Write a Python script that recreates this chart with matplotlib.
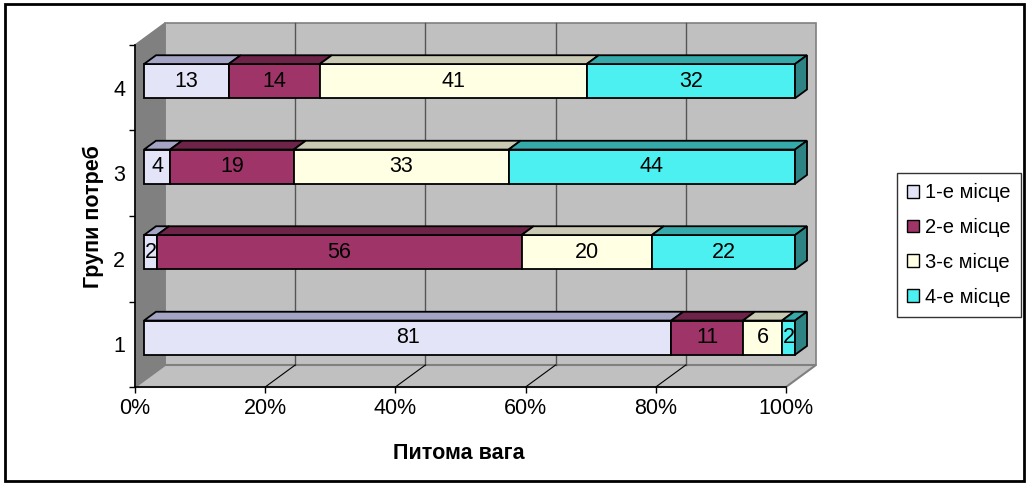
import matplotlib
matplotlib.use("Agg")
import matplotlib.pyplot as plt
from matplotlib.patches import Polygon, Rectangle, Patch

plt.rcParams['font.family'] = ['Liberation Sans', 'DejaVu Sans']

# data
groups = ["1", "2", "3", "4"]
series = ["1-е місце", "2-е місце", "3-є місце", "4-е місце"]
values = [
    [81, 2, 4, 13],    # 1-е місце
    [11, 56, 19, 14],  # 2-е місце
    [6, 20, 33, 41],   # 3-є місце
    [2, 22, 44, 32],   # 4-е місце
]
xticks = [0, 20, 40, 60, 80, 100]
xlabels = ["0%", "20%", "40%", "60%", "80%", "100%"]

front_col = ["#e4e4f8", "#9e3468", "#ffffe4", "#4cf0f0"]
top_col = ["#a4a4c4", "#6e2448", "#cacab4", "#36aaaa"]
side_col = ["#8c8cb0", "#5a1c3a", "#a8a894", "#2e8484"]

W, H = 1029, 486
fig = plt.figure(figsize=(W / 100, H / 100), dpi=100)
# front plane of the 3d box
ax = fig.add_axes([135 / W, (H - 387) / H, 651 / W, 342 / H])
ax.set_xlim(0, 100)
ax.set_ylim(0, 4)

# depth offset in data units (30px right, 22px up)
ddx = 30 / 6.51
ddy = 22 / 85.5

def off(x, y, d):
    return (x + ddx * d, y + ddy * d)

kw = dict(clip_on=False)
# walls
ax.add_patch(Polygon([off(0, 0, 1), off(100, 0, 1), off(100, 4, 1), off(0, 4, 1)],
                     closed=True, fc="#c0c0c0", ec="#808080", lw=1.2, zorder=1, **kw))
ax.add_patch(Polygon([(0, 0), off(0, 0, 1), off(0, 4, 1), (0, 4)],
                     closed=True, fc="#808080", ec="#808080", lw=1, zorder=1, **kw))
ax.add_patch(Polygon([(0, 0), (100, 0), off(100, 0, 1), off(0, 0, 1)],
                     closed=True, fc="#c0c0c0", ec="#808080", lw=1.5, zorder=1, **kw))
# gridlines
for t in xticks[1:-1]:
    ax.plot([off(t, 0, 1)[0]] * 2, [off(t, 0, 1)[1], off(t, 4, 1)[1]],
            color="#555555", lw=1, zorder=2, **kw)
    ax.plot([t, off(t, 0, 1)[0]], [0, off(t, 0, 1)[1]], color="black", lw=0.8, zorder=2, **kw)

# bars
bh = 1 / 2.5
d0, d1 = 0.3, 0.7
for gi in range(len(groups)):
    yc = gi + 0.5
    yb, yt = yc - bh / 2, yc + bh / 2
    left = 0
    for si in range(len(series)):
        v = values[si][gi]
        r = left + v
        front = [off(left, yb, d0), off(r, yb, d0), off(r, yt, d0), off(left, yt, d0)]
        top = [off(left, yt, d0), off(r, yt, d0), off(r, yt, d1), off(left, yt, d1)]
        ax.add_patch(Polygon(front, closed=True, fc=front_col[si], ec="black", lw=1.3, zorder=3, **kw))
        ax.add_patch(Polygon(top, closed=True, fc=top_col[si], ec="black", lw=1.3, zorder=3, **kw))
        if si == len(series) - 1:
            side = [off(r, yb, d0), off(r, yb, d1), off(r, yt, d1), off(r, yt, d0)]
            ax.add_patch(Polygon(side, closed=True, fc=side_col[si], ec="black", lw=1.3, zorder=3, **kw))
        cx, cy = off(left + v / 2, yc, d0)
        ax.text(cx, cy, str(v), ha="center", va="center", fontsize=15.5, zorder=4)
        left = r

for s in ["top", "right"]:
    ax.spines[s].set_visible(False)
for s in ["left", "bottom"]:
    ax.spines[s].set_linewidth(1.2)
    ax.spines[s].set_zorder(2.5)
ax.set_facecolor("none")
ax.set_xticks(xticks)
ax.set_xticklabels(xlabels, fontsize=15.5)
ax.set_yticks(range(5))
ax.set_yticklabels([])
ax.set_yticks([g + 0.5 for g in range(4)], minor=True)
ax.set_yticklabels(groups, minor=True, fontsize=15.5)
ax.tick_params(axis="x", length=4, width=1, pad=4)
ax.tick_params(axis="y", which="major", length=4, width=1)
ax.tick_params(axis="y", which="minor", length=0, pad=7)

fig.text(459 / W, 1 - 453 / H, "Питома вага", ha="center", va="center",
         fontsize=15.5, fontweight="bold")
fig.text(93 / W, 1 - 217 / H, "Групи потреб", ha="center", va="center",
         fontsize=15.5, fontweight="bold", rotation=90)

handles = [Patch(fc=front_col[i], ec="black", lw=1) for i in range(len(series))]
leg = fig.legend(handles, series, loc="center", bbox_to_anchor=(959 / W, 1 - 245 / H),
                 fontsize=14.5, frameon=True, fancybox=False, handlelength=0.6,
                 handleheight=0.6, handletextpad=0.3, labelspacing=0.78,
                 borderpad=0.5, borderaxespad=0)
leg.get_frame().set_edgecolor("black")
leg.get_frame().set_linewidth(1)

fig.patches.append(Rectangle((5 / W, 5 / H), 1019 / W, 477 / H, transform=fig.transFigure,
                             fill=False, ec="black", lw=2))

fig.savefig("out.png", dpi=100)
